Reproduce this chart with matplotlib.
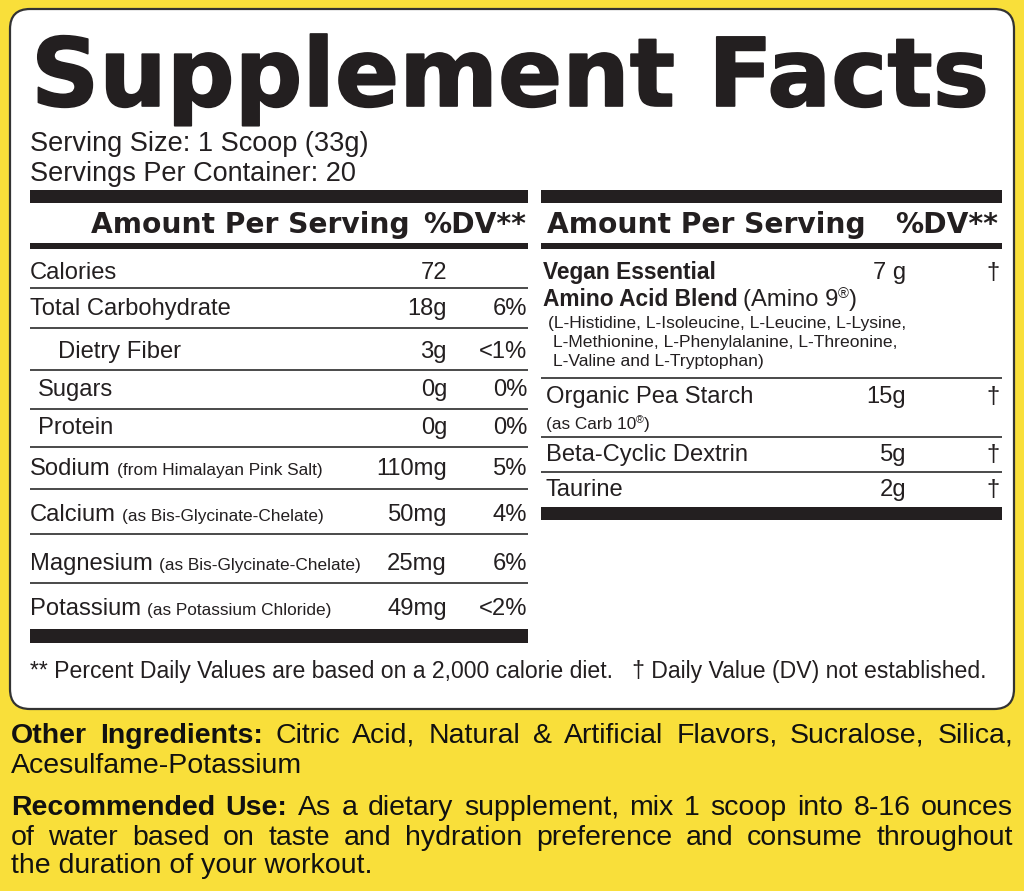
import matplotlib
matplotlib.use("Agg")
import matplotlib.pyplot as plt
import matplotlib.patheffects as pe
from matplotlib.patches import FancyBboxPatch, Rectangle

INK = "#231f20"
BLACK = "#111111"
YELLOW = "#f9df3a"
SANS = ["Liberation Sans", "DejaVu Sans"]
WIDE = ["DejaVu Sans"]

# ---- label content ----
title = "Supplement Facts"
serving_size = "Serving Size: 1 Scoop (33g)"
servings_per = "Servings Per Container: 20"
header_amount = "Amount Per Serving"
header_dv = "%DV**"

left_names = ["Calories", "Total Carbohydrate", "Dietry Fiber", "Sugars", "Protein",
              "Sodium", "Calcium", "Magnesium", "Potassium"]
left_notes = ["", "", "", "", "", "(from Himalayan Pink Salt)", "(as Bis-Glycinate-Chelate)",
              "(as Bis-Glycinate-Chelate)", "(as Potassium Chloride)"]
left_amounts = ["72", "18g", "3g", "0g", "0g", "110mg", "50mg", "25mg", "49mg"]
left_dv = ["", "6%", "<1%", "0%", "0%", "5%", "4%", "6%", "<2%"]

blend_name = ["Vegan Essential", "Amino Acid Blend"]
blend_brand = ("(Amino 9", ")")
blend_detail = ["(L-Histidine, L-Isoleucine, L-Leucine, L-Lysine,",
                "L-Methionine, L-Phenylalanine, L-Threonine,",
                "L-Valine and L-Tryptophan)"]
right_names = ["Vegan Essential", "Organic Pea Starch", "Beta-Cyclic Dextrin", "Taurine"]
right_amounts = ["7 g", "15g", "5g", "2g"]
right_dv = ["†", "†", "†", "†"]
pea_note = ("(as Carb 10", ")")

footnote = "** Percent Daily Values are based on a 2,000 calorie diet.   † Daily Value (DV) not established."
other_label = "Other Ingredients:"
other_lines = ["Citric Acid, Natural & Artificial Flavors, Sucralose, Silica,", "Acesulfame-Potassium"]
use_label = "Recommended Use:"
use_lines = ["As a dietary supplement, mix 1 scoop into 8-16 ounces",
             "of water based on taste and hydration preference and consume throughout",
             "the duration of your workout."]

# ---- layout (pixels, y down) ----
left_base = [279, 315, 358, 396, 434, 475, 521, 570, 615]
left_indent = [30, 30, 58, 38, 38, 30, 30, 30, 30]
left_rules = [288, 328, 370, 409, 447, 489, 534, 583]
right_base = [279, 403, 461, 496]
right_rules = [378, 437, 472]

fig = plt.figure(figsize=(10.24, 8.91), dpi=100)
fig.patch.set_facecolor(YELLOW)
ax = fig.add_axes([0, 0, 1, 1])
ax.set_xlim(0, 1024)
ax.set_ylim(891, 0)
ax.axis("off")
renderer = fig.canvas.get_renderer()


def put(x, y, s, size, ha="left", family=SANS, weight="normal", color=INK, **kw):
    return ax.text(x, y, s, fontsize=size, ha=ha, va="baseline", family=family,
                   weight=weight, color=color, **kw)


def wid(t):
    return t.get_window_extent(renderer=renderer).width


def fit(s, width, family=SANS, weight="normal"):
    t = ax.text(0, 0, s, fontsize=10, family=family, weight=weight)
    w = wid(t)
    t.remove()
    return 10 * width / w


def justify(y, segments, x0, x1, size):
    words = []
    for text, weight in segments:
        for w in text.split():
            words.append(put(0, y, w, size, weight=weight, color=BLACK))
    widths = [wid(w) for w in words]
    gap = (x1 - x0 - sum(widths)) / (len(words) - 1)
    x = x0
    for w, ww in zip(words, widths):
        w.set_x(x)
        x += ww + gap


def registered(x, y, parts, size):
    a = put(x, y, parts[0], size)
    x += wid(a)
    r = put(x, y - size * 0.45, "®", size * 0.62)
    x += wid(r)
    put(x, y, parts[1], size)


# white panel
ax.add_patch(FancyBboxPatch((10, 9), 1004, 700, boxstyle="round,pad=0,rounding_size=20",
                            fc="white", ec="#333333", lw=1.6))

# title and serving info
ts = fit(title, 958, WIDE, "bold")
put(31, 106, title, ts, family=WIDE, weight="bold",
    path_effects=[pe.withStroke(linewidth=1.2, foreground=INK)])
ss = fit(serving_size, 338)
put(30, 151, serving_size, ss)
put(30, 181, servings_per, ss)

# table headers
hs = fit(header_amount, 318, WIDE, "bold")
for x0, x1, xa, xd in [(30, 528, 410, 526), (541, 1002, 866, 998)]:
    ax.add_patch(Rectangle((x0, 190), x1 - x0, 13, fc=INK, ec="none"))
    ax.add_patch(Rectangle((x0, 243), x1 - x0, 6, fc=INK, ec="none"))
    put(xa, 233, header_amount, hs, ha="right", family=WIDE, weight="bold")
    put(xd, 233, header_dv, hs, ha="right", family=WIDE, weight="bold")

# left table
rs = fit("Total Carbohydrate", 202)
ns = fit("(from Himalayan Pink Salt)", 206)
for name, note, amt, dv, y, x in zip(left_names, left_notes, left_amounts, left_dv,
                                     left_base, left_indent):
    t = put(x, y, name, rs)
    if note:
        put(x + wid(t) + 6, y, note, ns)
    put(447, y, amt, rs, ha="right")
    if dv:
        put(527, y, dv, rs, ha="right")
for y in left_rules:
    ax.plot([30, 528], [y, y], color="#4a4a4a", lw=1.4, solid_capstyle="butt")
ax.add_patch(Rectangle((30, 629), 498, 14, fc=INK, ec="none"))

# right table
bs = fit(blend_name[0], 174, SANS, "bold")
put(543, right_base[0], blend_name[0], bs, weight="bold")
b2 = put(543, 306, blend_name[1], bs, weight="bold")
registered(543 + wid(b2) + 5, 306, blend_brand, rs)
ds = fit(blend_detail[0], 360)
for line, y, x in zip(blend_detail, [328, 347, 366], [548, 553, 553]):
    put(x, y, line, ds)
for name, y in zip(right_names[1:], right_base[1:]):
    put(546, y, name, rs)
for amt, dv, y in zip(right_amounts, right_dv, right_base):
    put(906, y, amt, rs, ha="right")
    put(993, y, dv, rs, ha="center")
registered(546, 429, pea_note, ns)
for y in right_rules:
    ax.plot([541, 1002], [y, y], color="#4a4a4a", lw=1.4, solid_capstyle="butt")
ax.add_patch(Rectangle((541, 507), 461, 13, fc=INK, ec="none"))

# footnote
put(30, 678, footnote, fit(footnote, 960))

# yellow section
ys = 20.5
justify(743, [(other_label, "bold"), (other_lines[0], "normal")], 11, 1013, ys)
put(11, 773, other_lines[1], ys, color=BLACK)
justify(815, [(use_label, "bold"), (use_lines[0], "normal")], 11, 1013, ys)
justify(845, [(use_lines[1], "normal")], 11, 1013, ys)
put(11, 873, use_lines[2], ys, color=BLACK)

fig.savefig("out.png", dpi=100, facecolor=YELLOW)
